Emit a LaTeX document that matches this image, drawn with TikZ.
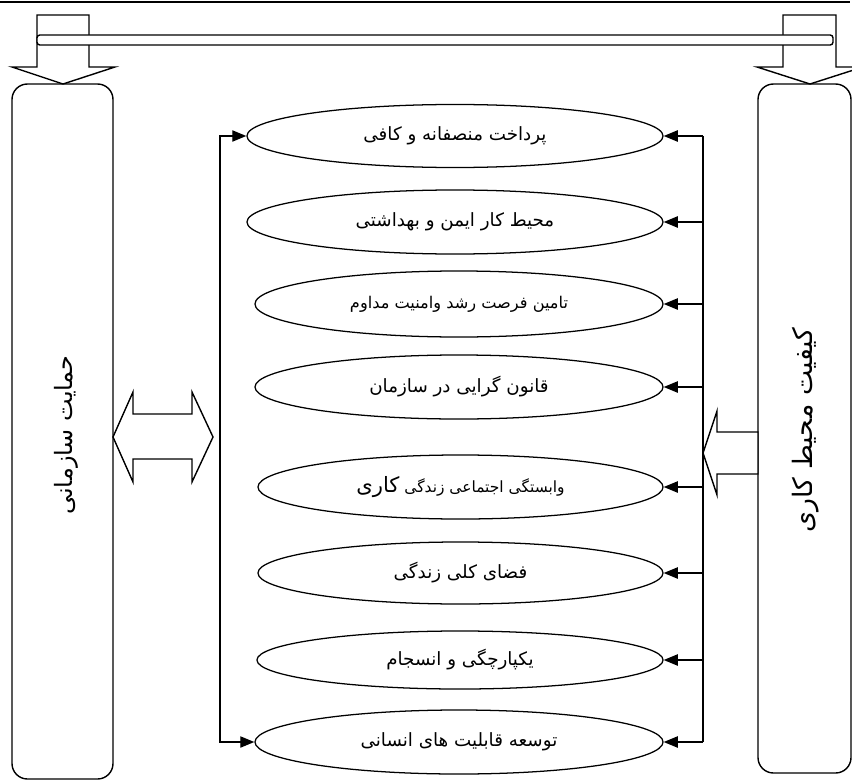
\documentclass[tikz,border=0pt]{standalone}
\usepackage{fontspec}
\usetikzlibrary{shapes.geometric,arrows.meta}
\newfontfamily\fa[Script=Arabic]{DejaVu Sans}
\TeXXeTstate=1
\begin{document}
\begin{tikzpicture}[x=0.025cm,y=-0.025cm,
  ln/.style={line width=1pt},
  ell/.style={draw, ellipse, inner sep=0pt, line width=0.9pt, font=\fa\fontsize{13}{15}\selectfont},
  arr/.style={line width=1pt, -{Triangle[length=10pt,width=8pt]}},
  side/.style={font=\fa\fontsize{17}{19}\selectfont, rotate=90}]
\useasboundingbox (0,0) rectangle (852,781);
% top rule
\draw[line width=1.2pt] (0,2) -- (850,2);
% down arrows
\draw[ln, fill=white] (37,15) -- (89,15) -- (89,67) -- (115,67) -- (63,84) -- (12,67) -- (37,67) -- cycle;
\draw[ln, fill=white] (783,15) -- (836,15) -- (836,67) -- (863,67) -- (810,84) -- (757,67) -- (783,67) -- cycle;
% top bar
\draw[ln, fill=white, rounded corners=2pt] (37,35) rectangle (833,45);
% side boxes
\draw[ln, rounded corners=11pt] (12,84) rectangle (113,779);
\draw[ln, rounded corners=11pt] (758,84) rectangle (851,773);
\node[side] (ltext) at (66,435) {\beginR حمایت سازمانی\endR};
\node[side, font=\fa\fontsize{19}{21}\selectfont] (rtext) at (806,430) {\beginR کیفیت محیط کاری\endR};
% ellipses
\node[ell, minimum width=10.4cm, minimum height=1.575cm] (e1) at (455,136) {\beginR پرداخت منصفانه و کافی\endR};
\node[ell, minimum width=10.4cm, minimum height=1.6cm] (e2) at (455,222) {\beginR محیط کار ایمن و بهداشتی\endR};
\node[ell, minimum width=10.2cm, minimum height=1.65cm, font=\fa\fontsize{11.5}{13}\selectfont] (e3) at (459,304) {\beginR تامین فرصت رشد وامنیت مداوم\endR};
\node[ell, minimum width=10.2cm, minimum height=1.6cm] (e4) at (459,387) {\beginR قانون گرایی در سازمان\endR};
\node[ell, minimum width=10.125cm, minimum height=1.6cm, font=\fa\fontsize{11}{13}\selectfont] (e5) at (460.5,487) {\beginR وابستگی اجتماعی زندگی {\fontsize{15}{17}\selectfont کاری}\endR};
\node[ell, minimum width=10.125cm, minimum height=1.55cm] (e6) at (460.5,573) {\beginR فضای کلی زندگی\endR};
\node[ell, minimum width=10.15cm, minimum height=1.45cm] (e7) at (460,660) {\beginR یکپارچگی و انسجام\endR};
\node[ell, minimum width=10.2cm, minimum height=1.6cm] (e8) at (459,742) {\beginR توسعه قابلیت های انسانی\endR};
% left connector
\coordinate (lc) at (220,437);
\draw[arr] (lc) |- (e1.west);
\draw[arr] (lc) |- (e8.west);
% right connector
\coordinate (rc) at (703,453);
\draw[ln] (rc |- e1.east) -- (rc |- e8.east);
\foreach \i in {1,...,8}{\draw[arr] (rc |- e\i.east) -- (e\i.east);}
% double arrow
\draw[ln, fill=white] (113,437) -- (133,392) -- (133,414) -- (192,414) -- (192,392) -- (213,437) -- (192,482) -- (192,459) -- (133,459) -- (133,482) -- cycle;
% hollow arrow from right box
\draw[ln, fill=white] (703,453) -- (717,411) -- (717,432) -- (758,432) -- (758,474) -- (717,474) -- (717,495) -- cycle;
\end{tikzpicture}
\end{document}
